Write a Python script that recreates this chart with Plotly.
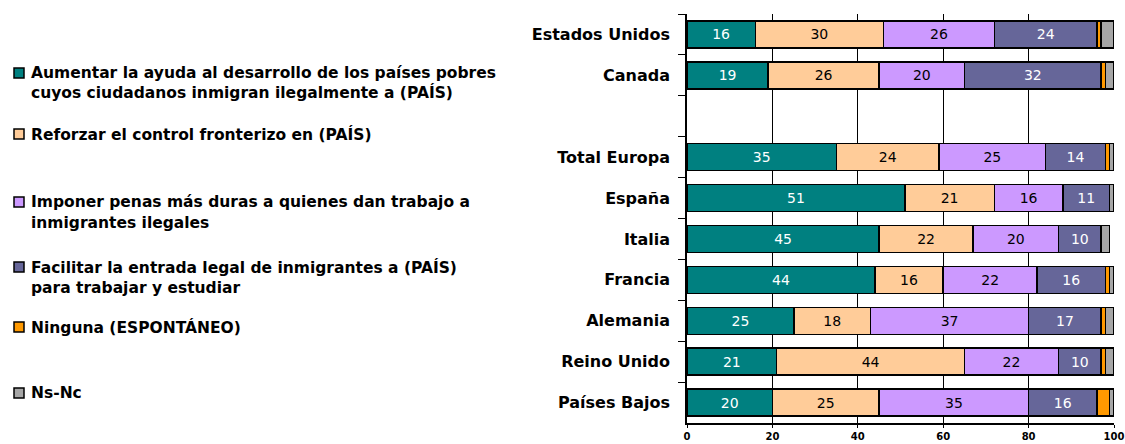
import plotly.graph_objects as go

categories = ["Estados Unidos", "Canada", " ", "Total Europa", "España", "Italia",
              "Francia", "Alemania", "Reino Unido", "Países Bajos"]

ayuda      = [16, 19, None, 35, 51, 45, 44, 25, 21, 20]
control    = [30, 26, None, 24, 21, 22, 16, 18, 44, 25]
penas      = [26, 20, None, 25, 16, 20, 22, 37, 22, 35]
facilitar  = [24, 32, None, 14, 11, 10, 16, 17, 10, 16]
ninguna    = [1, 1, None, 1, 0, 0, 1, 1, 1, 3]
nsnc       = [3, 2, None, 1, 1, 2, 1, 2, 2, 1]

series_names = [
    "Aumentar la ayuda al desarrollo de los países pobres<br>cuyos ciudadanos inmigran ilegalmente a (PAÍS)",
    "Reforzar el control fronterizo en (PAÍS)",
    "Imponer penas más duras a quienes dan trabajo a<br>inmigrantes ilegales",
    "Facilitar la entrada legal de inmigrantes a (PAÍS)<br>para trabajar y estudiar",
    "Ninguna (ESPONTÁNEO)",
    "Ns-Nc",
]
series_values = [ayuda, control, penas, facilitar, ninguna, nsnc]
x_ticks = [0, 20, 40, 60, 80, 100]

colors = ["#008080", "#FFCC99", "#CC99FF", "#666699", "#FF9900", "#A6A6A6"]
text_colors = ["white", "black", "black", "white", None, None]
show_text = [True, True, True, True, False, False]

FONT = "DejaVu Sans"

fig = go.Figure()
for name, vals, col, tcol, st in zip(series_names, series_values, colors, text_colors, show_text):
    fig.add_trace(go.Bar(
        y=categories, x=vals, orientation="h", name=name,
        marker=dict(color=col, line=dict(color="black", width=1.5)),
        text=[(str(v) if v is not None else "") for v in vals] if st else None,
        textposition="inside" if st else "none",
        insidetextanchor="middle",
        textfont=dict(family=FONT, size=14, color=tcol if tcol else "black"),
        width=0.66,
        showlegend=False,
        hoverinfo="x+y",
    ))

fig.update_layout(
    barmode="stack",
    width=1125, height=444,
    margin=dict(l=687, r=11, t=14, b=21),
    plot_bgcolor="white", paper_bgcolor="white",
    bargap=0.34,
    uniformtext=dict(minsize=8, mode="show"),
)
fig.update_xaxes(
    range=[0, 100], tickvals=x_ticks, ticktext=[str(t) for t in x_ticks],
    showgrid=True, gridcolor="black", gridwidth=1,
    showline=True, linecolor="black", linewidth=1.5,
    ticks="outside", ticklen=3, tickcolor="black",
    tickfont=dict(family=FONT, size=10, color="black", weight="bold"),
    zeroline=False, fixedrange=True, automargin=False,
)
fig.update_yaxes(
    categoryorder="array", categoryarray=categories, autorange="reversed",
    showline=True, linecolor="black", linewidth=1.5,
    ticks="outside", ticklen=7, tickcolor="black", tickson="boundaries",
    tickfont=dict(family=FONT, size=16, color="black", weight="bold"),
    ticklabelstandoff=12,
    showgrid=False, fixedrange=True, automargin=False,
)

# custom legend on the left
plot_left, plot_right, plot_top, plot_bottom = 687, 1114, 14, 423
def px_to_paper_x(px):
    return (px - plot_left) / (plot_right - plot_left)
def px_to_paper_y(py):
    return (plot_bottom - py) / (plot_bottom - plot_top)

legend_lines_y = [[73, 93], [134], [202, 223], [267, 288], [327], [393]]
for name, col, ys in zip(series_names, colors, legend_lines_y):
    lines = name.split("<br>")
    for line, yy in zip(lines, ys):
        fig.add_annotation(
            xref="paper", yref="paper", x=px_to_paper_x(29), y=px_to_paper_y(yy),
            xanchor="left", yanchor="middle", text=line, showarrow=False,
            font=dict(family=FONT, size=15.5, color="black", weight="bold"),
        )
    cy = ys[0]
    fig.add_shape(
        type="rect", xref="paper", yref="paper",
        x0=px_to_paper_x(14), x1=px_to_paper_x(24),
        y0=px_to_paper_y(cy - 5), y1=px_to_paper_y(cy + 5),
        fillcolor=col, line=dict(color="black", width=1.5),
    )

fig.write_html("out.html",
               config={"displayModeBar": False},
               post_script="document.body.style.margin='0px';document.body.style.overflow='hidden';")
